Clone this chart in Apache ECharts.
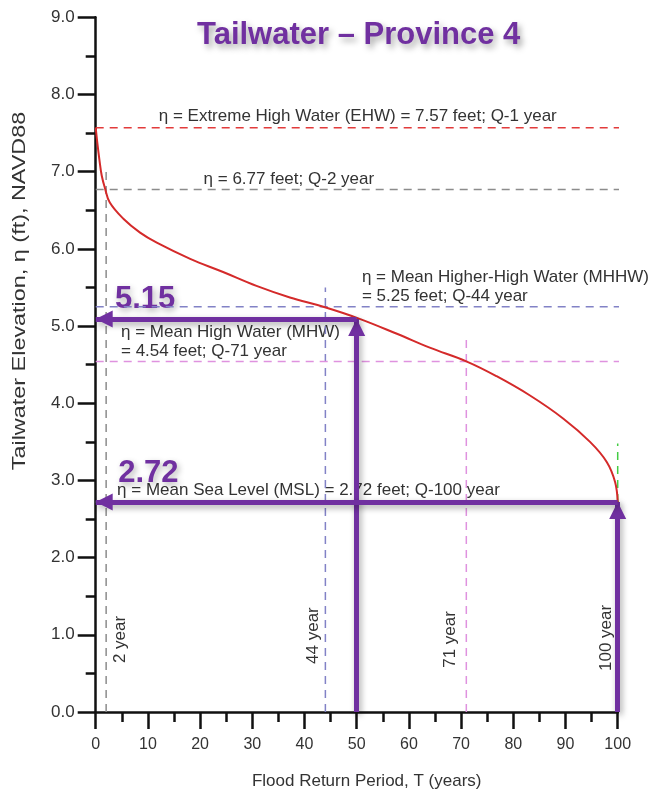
<!DOCTYPE html>
<html><head><meta charset="utf-8">
<script src="https://cdn.jsdelivr.net/npm/echarts@6/dist/echarts.min.js"></script>
<style>html,body{margin:0;padding:0;background:#fff}#c{width:652px;height:795px}</style>
</head><body><div id="c"></div>
<script>
// ---- data ----
const returnPeriod = [0, 0.3, 0.7, 1.15, 1.8, 2.7, 5.3, 8.5, 11.7, 18.1, 24.4, 30.8, 37.2, 43.6, 50.3, 57.7, 64.0, 71.1, 76.8, 83.2, 89.6, 94.7, 97.9, 99.5, 100];
const elevation    = [7.57, 7.38, 7.16, 6.95, 6.78, 6.60, 6.39, 6.21, 6.08, 5.87, 5.70, 5.52, 5.37, 5.25, 5.10, 4.90, 4.72, 4.54, 4.35, 4.10, 3.80, 3.50, 3.24, 2.98, 2.72];
const xTickValues = [0, 10, 20, 30, 40, 50, 60, 70, 80, 90, 100];
const yTickValues = [0, 1, 2, 3, 4, 5, 6, 7, 8, 9];
const levelValues = [7.57, 6.77, 5.25, 4.54, 2.72];
const levelYears  = [1, 2, 44, 71, 100];
const guideTops   = [null, 7.07, 5.5, 4.82, 3.48];
const guideEnd = 104.5;
const arrowPeriods = [50, 100];
const arrowElevations = [5.09, 2.72];

// ---- styles ----
const levelColors = ['#e23b3b', '#8c8c8c', '#8282c6', '#df92df', '#44cc44'];
const FONT = "'Liberation Sans', Arial, sans-serif";
const PURPLE = '#7030a0';

const curve = returnPeriod.map((x, i) => [x, elevation[i]]);

const series = [];
levelValues.forEach((v, i) => {
  const dashStyle = { color: levelColors[i], width: 1.5, type: [8, 6] };
  series.push({ type: 'line', data: [[0, v], [guideEnd, v]], clip: false, symbol: 'none', silent: true,
    lineStyle: dashStyle, z: 2, animation: false });
  if (guideTops[i] !== null) {
    series.push({ type: 'line', data: [[levelYears[i], 0], [levelYears[i], guideTops[i]]], clip: false, symbol: 'none', silent: true,
      lineStyle: dashStyle, z: 2, animation: false });
  }
});
series.push({ type: 'line', data: curve, smooth: 0.4, symbol: 'none', silent: true,
  lineStyle: { color: '#d42a2a', width: 2 }, z: 3, animation: false });

const arrowLines = [];
arrowPeriods.forEach((p, i) => {
  const e = arrowElevations[i];
  arrowLines.push([{ coord: [p, 0] }, { coord: [p, e] }]);
  arrowLines.push([{ coord: [p, e] }, { coord: [0, e] }]);
});
series.push({ type: 'line', data: [], z: 10, animation: false,
  markLine: { silent: true, animation: false,
    symbol: ['none', 'triangle'], symbolSize: [17, 17], symbolOffset: [[0, 0], [0, 8.5]],
    label: { show: false }, emphasis: { disabled: true },
    lineStyle: { color: PURPLE, width: 5, type: 'solid', shadowBlur: 6, shadowColor: 'rgba(0,0,0,0.35)', shadowOffsetX: 2, shadowOffsetY: 3 },
    data: arrowLines } });

const option = {
  backgroundColor: '#fff',
  animation: false,
  title: { text: 'Tailwater \u2013 Province 4', left: 197, top: 20, padding: 0,
    textStyle: { fontFamily: FONT, fontSize: 31, fontWeight: 'bold', color: PURPLE,
      textShadowColor: 'rgba(0,0,0,0.35)', textShadowBlur: 6, textShadowOffsetX: 3, textShadowOffsetY: 4 } },
  grid: { left: 95.7, right: 34.3, top: 17.3, bottom: 80.7, containLabel: false },
  xAxis: { type: 'value', min: xTickValues[0], max: xTickValues[xTickValues.length - 1], interval: xTickValues[1] - xTickValues[0],
    name: 'Flood Return Period, T (years)', nameLocation: 'middle', nameGap: 61,
    nameTextStyle: { fontFamily: FONT, fontSize: 17, color: '#333', padding: [0, 0, 0, 20] },
    axisLine: { lineStyle: { color: '#111', width: 2.5 } },
    axisTick: { show: true, length: 17, lineStyle: { color: '#111', width: 2.5 } },
    minorTick: { show: true, splitNumber: 2, length: 10, lineStyle: { color: '#111', width: 2.5 } },
    axisLabel: { fontFamily: FONT, fontSize: 16, color: '#333', margin: 25 },
    splitLine: { show: false } },
  yAxis: { type: 'value', min: yTickValues[0], max: yTickValues[yTickValues.length - 1], interval: yTickValues[1] - yTickValues[0],
    axisLine: { show: true, lineStyle: { color: '#111', width: 2.5 } },
    axisTick: { show: true, length: 18, lineStyle: { color: '#111', width: 2.5 } },
    minorTick: { show: true, splitNumber: 2, length: 10, lineStyle: { color: '#111', width: 2.5 } },
    axisLabel: { fontFamily: FONT, fontSize: 17, color: '#333', margin: 21, formatter: v => v.toFixed(1) },
    splitLine: { show: false } },
  series: series
};

const chart = echarts.init(document.getElementById('c'), null, { renderer: 'canvas' });
chart.setOption(option);

const annotations = [
  { text: '\u03b7 = Extreme High Water (EHW) = 7.57 feet; Q-1 year', at: [50.2, 7.72], align: 'center' },
  { text: '\u03b7 = 6.77 feet; Q-2 year', at: [37.0, 6.90], align: 'center' },
  { text: '\u03b7 = Mean Higher-High Water (MHHW)\n= 5.25 feet; Q-44 year', at: [51.0, 5.51], align: 'left' },
  { text: '\u03b7 = Mean High Water (MHW)\n= 4.54 feet; Q-71 year', at: [4.85, 4.80], align: 'left' },
  { text: '\u03b7 = Mean Sea Level (MSL) = 2.72 feet; Q-100 year', at: [4.1, 2.87], align: 'left' },
  { text: '5.15', at: [3.7, 5.35], align: 'left', big: true },
  { text: '2.72', at: [4.3, 3.09], align: 'left', big: true },
  { text: '2 year', at: [4.66, 0.94], align: 'center', rot: true },
  { text: '44 year', at: [41.6, 0.99], align: 'center', rot: true },
  { text: '71 year', at: [67.9, 0.94], align: 'center', rot: true },
  { text: '100 year', at: [97.9, 0.96], align: 'center', rot: true }
];

const graphics = annotations.map(a => {
  const p = chart.convertToPixel({ gridIndex: 0 }, a.at);
  const style = a.big
    ? { text: a.text, fill: PURPLE, fontFamily: FONT, fontSize: 31, fontWeight: 'bold', align: a.align, verticalAlign: 'middle',
        textShadowColor: 'rgba(0,0,0,0.3)', textShadowBlur: 6, textShadowOffsetX: 2, textShadowOffsetY: 3 }
    : { text: a.text, fill: '#333', fontFamily: FONT, fontSize: 17, align: a.align, verticalAlign: 'middle', lineHeight: 19 };
  return { type: 'text', x: p[0], y: p[1], rotation: a.rot ? Math.PI / 2 : 0, z: a.big ? 1 : 0, silent: true, style: style };
});
graphics.push({ type: 'text', x: 20, y: 291, rotation: Math.PI / 2, scaleX: 1.3, silent: true,
  style: { text: 'Tailwater Elevation, \u03b7 (ft), NAVD88', fill: '#333', fontFamily: FONT, fontSize: 18, align: 'center', verticalAlign: 'middle' } });
chart.setOption({ graphic: graphics });
</script>
</body></html>
